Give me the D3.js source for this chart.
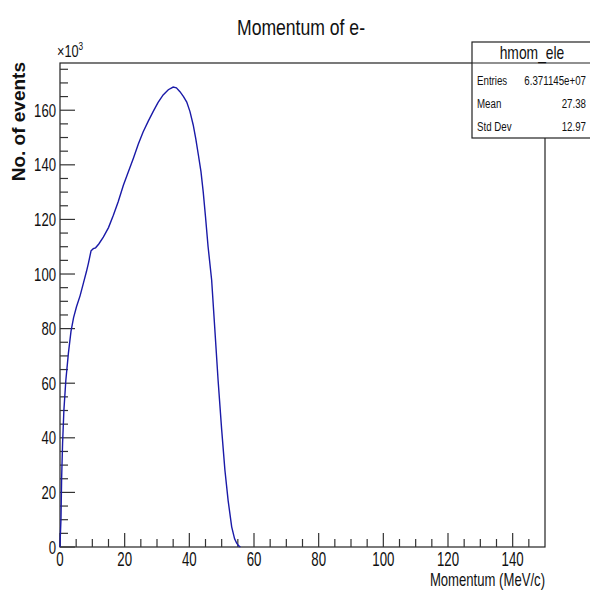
<!DOCTYPE html>
<html>
<head>
<meta charset="utf-8">
<script src="https://cdn.jsdelivr.net/npm/d3@7"></script>
<style>
    body { margin: 0; background: #fff; }
    svg { display: block; }
    text { font-family: "Liberation Sans", Arial, sans-serif; fill: #111; }
</style>
</head>
<body>
<svg width="590" height="590"></svg>
<script>
var momentum = [0, 0.1, 0.3, 0.5, 0.8, 1.2, 1.8, 2.6, 3.4, 4.2, 5.1, 6.2, 7.2, 8.2, 8.8,
    9.6, 10.3, 11, 12, 13.4, 15, 16.5, 18, 19.6, 21, 22.7, 24.2, 25.7, 27.3, 28.8,
    30.3, 31.9, 33.5, 35, 36, 37.1, 38.2, 39.2, 40.2, 41.2, 42, 42.8, 43.6, 44.3,
    45, 45.8, 46.9, 47.9, 48.9, 50, 51, 52, 53.1, 54, 54.6, 55.2, 55.8];
var counts = [0, 4, 10, 25, 38, 50, 61, 71, 79, 84, 88, 92, 96.5, 101, 104,
    108.5, 109.3, 109.6, 111, 113.5, 117, 121.5, 126.5, 132.5, 137, 142.4, 147.5, 152, 156, 159.5,
    162.8, 165.6, 167.5, 168.5, 168.2, 166.8, 165, 163, 159.5, 154.6, 149.5, 143.6, 137.5, 130,
    121, 110, 97.8, 79.5, 61, 43, 28.2, 17, 7.4, 3, 1.5, 0.5, 0];

var xTicks = [0, 20, 40, 60, 80, 100, 120, 140];
var yTicks = [0, 20, 40, 60, 80, 100, 120, 140, 160];

var statNames = ["Entries", "Mean", "Std Dev"];
var statValues = ["6.371145e+07", "27.38", "12.97"];

window.onload = main;

// squeezed text, to look like the narrow ROOT font
function narrow(parent, x, y, str, size, sx, anchor) {
    var g = parent.append("g")
        .attr("transform", "translate(" + x + "," + y + ") scale(" + sx + ",1)");
    return g.append("text")
        .attr("text-anchor", anchor || "start")
        .attr("font-size", size)
        .text(str);
}

function main() {
    var svg = d3.select("svg");
    var left = 60, right = 545, top = 63, bottom = 547;

    var x = d3.scaleLinear().domain([0, 150]).range([left, right]);
    var y = d3.scaleLinear().domain([0, 177.3]).range([bottom, top]);

    // frame
    svg.append("rect")
        .attr("x", left).attr("y", top)
        .attr("width", right - left).attr("height", bottom - top)
        .attr("fill", "none").attr("stroke", "#222").attr("stroke-width", 1.2);

    // x axis: major every 20, minor every 5
    var gx = svg.append("g");
    gx.selectAll("line")
        .data(d3.range(0, 150, 5))
        .enter()
        .append("line")
        .attr("x1", (d) => x(d)).attr("x2", (d) => x(d))
        .attr("y1", bottom)
        .attr("y2", (d) => (d % 20 == 0 ? bottom - 14 : bottom - 8))
        .attr("stroke", "#333").attr("stroke-width", 1.2);
    xTicks.forEach(function (d) {
        narrow(gx, x(d), 566, d, 19.5, 0.68, "middle");
    });

    // y axis: major every 20, minor every 5
    var gy = svg.append("g");
    gy.selectAll("line")
        .data(d3.range(0, 177, 5))
        .enter()
        .append("line")
        .attr("y1", (d) => y(d)).attr("y2", (d) => y(d))
        .attr("x1", left)
        .attr("x2", (d) => (d % 20 == 0 ? left + 15 : left + 8))
        .attr("stroke", "#333").attr("stroke-width", 1.2);
    yTicks.forEach(function (d) {
        narrow(gy, 56, y(d) + 6.5, d, 18, 0.73, "end");
    });

    // exponent
    var exp = narrow(svg, 57, 57, "\u00d710", 17, 0.75, "start");
    exp.append("tspan")
        .attr("dy", -7)
        .attr("font-size", 11)
        .text("3");

    // histogram curve
    var line = d3.line()
        .x((d, i) => x(momentum[i]))
        .y((d) => y(d));
    svg.append("path")
        .datum(counts)
        .attr("d", line)
        .attr("fill", "none")
        .attr("stroke", "#1a1aa8")
        .attr("stroke-width", 1.4);

    // titles
    narrow(svg, 301, 35, "Momentum of e-", 22, 0.8, "middle");
    narrow(svg, 545, 586, "Momentum (MeV/c)", 17.5, 0.75, "end");

    svg.append("text")
        .attr("transform", "translate(25,62) rotate(-90)")
        .attr("text-anchor", "end")
        .attr("font-weight", "bold")
        .attr("font-size", 19)
        .text("No. of events");

    // stats box
    var box = svg.append("g");
    box.append("rect")
        .attr("x", 472).attr("y", 42)
        .attr("width", 125).attr("height", 96)
        .attr("fill", "#fff").attr("stroke", "#222").attr("stroke-width", 1.2);
    box.append("line")
        .attr("x1", 472).attr("x2", 597)
        .attr("y1", 63).attr("y2", 63)
        .attr("stroke", "#222").attr("stroke-width", 1.2);
    narrow(box, 532, 59, "hmom_ele", 18, 0.77, "middle");
    statNames.forEach(function (d, i) {
        narrow(box, 477, 85 + i * 23, d, 13.5, 0.72, "start");
    });
    statValues.forEach(function (d, i) {
        narrow(box, 586, 85 + i * 23, d, 13.5, 0.72, "end");
    });
}
</script>
</body>
</html>
